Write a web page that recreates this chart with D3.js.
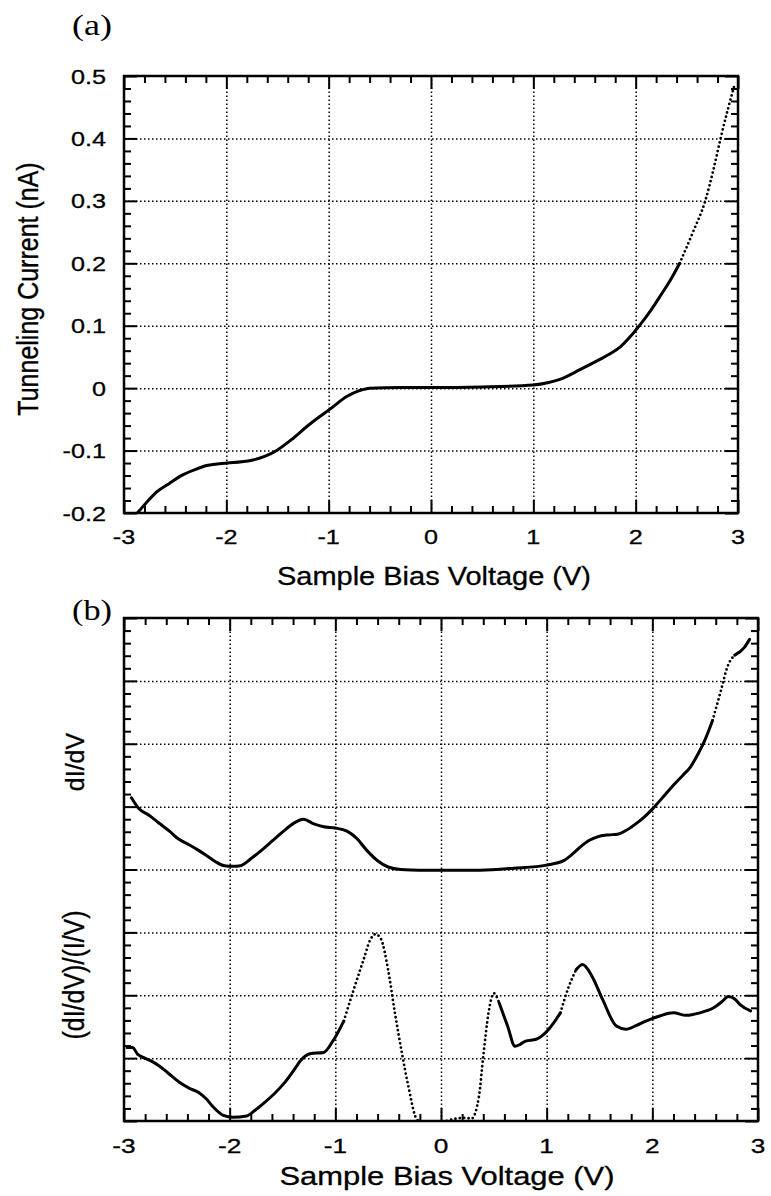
<!DOCTYPE html>
<html lang="en">
  <head>
    <meta charset="UTF-8" />
    <title>Tunneling Spectroscopy</title>
    <script src="https://d3js.org/d3.v7.min.js"></script>
    <style>
      body {
        margin: 0;
        background-color: #fff;
      }
      svg {
        display: block;
      }
      .tick-label {
        font-family: "Liberation Sans", Arial, sans-serif;
        font-size: 21px;
        fill: #000;
        stroke: #000;
        stroke-width: 0.3;
      }
      .axis-title {
        font-family: "Liberation Sans", Arial, sans-serif;
        font-size: 25px;
        fill: #000;
        stroke: #000;
        stroke-width: 0.3;
      }
      .panel-label {
        font-family: "Liberation Serif", "Times New Roman", serif;
        font-size: 29px;
        fill: #000;
      }
      .grid line {
        stroke: #000;
        stroke-width: 1.5;
        stroke-dasharray: 1.5, 2.5;
      }
      .ticks line {
        stroke: #000;
        stroke-width: 2;
      }
      .frame {
        fill: none;
        stroke: #000;
        stroke-width: 2.5;
      }
      .curve {
        fill: none;
        stroke: #000;
        stroke-width: 3;
        stroke-linejoin: round;
        stroke-linecap: round;
      }
      .curve.sparse {
        stroke-width: 2.8;
        stroke-dasharray: 0, 4.4;
      }
    </style>
  </head>
  <body>
    <script>
      // ---- data ----
      const biasTicks = [-3, -2, -1, 0, 1, 2, 3];
      const biasTickLabels = ["-3", "-2", "-1", "0", "1", "2", "3"];
      const currentTicks = [-0.2, -0.1, 0, 0.1, 0.2, 0.3, 0.4, 0.5];
      const currentTickLabels = ["-0.2", "-0.1", "0", "0.1", "0.2", "0.3", "0.4", "0.5"];
      const specTicks = [0, 1, 2, 3, 4, 5, 6, 7, 8]; // arbitrary units, no labels

      // (a) tunneling current (V, nA)
      const tunnelingCurrent = [
        [-2.93, -0.21], [-2.87, -0.2], [-2.78, -0.183], [-2.68, -0.166],
        [-2.56, -0.153], [-2.45, -0.141], [-2.3, -0.13], [-2.19, -0.124],
        [-1.99, -0.12], [-1.85, -0.118], [-1.74, -0.115], [-1.62, -0.109],
        [-1.5, -0.099], [-1.36, -0.082], [-1.21, -0.061], [-1.1, -0.047],
        [-0.99, -0.034], [-0.82, -0.013], [-0.7, -0.004], [-0.6, 0],
        [-0.3, 0.001], [0, 0.001], [0.5, 0.002], [1.0, 0.005], [1.15, 0.009],
        [1.26, 0.014], [1.46, 0.03], [1.65, 0.046], [1.75, 0.055], [1.85, 0.066],
        [1.95, 0.083], [2.05, 0.103], [2.15, 0.125], [2.25, 0.15], [2.35, 0.176],
        [2.43, 0.2], [2.56, 0.25], [2.68, 0.3], [2.76, 0.35], [2.83, 0.4],
        [2.9, 0.446], [2.97, 0.488]
      ];
      const tunnelingSparse = [[2.42, 3.0]];

      // (b) upper trace: dI/dV (grid units)
      const dIdV = [
        [-2.93, 5.14], [-2.86, 4.97], [-2.76, 4.86], [-2.67, 4.74], [-2.57, 4.61],
        [-2.48, 4.48], [-2.38, 4.39], [-2.29, 4.3], [-2.2, 4.2], [-2.13, 4.12],
        [-2.05, 4.06], [-1.97, 4.05], [-1.9, 4.06], [-1.8, 4.17], [-1.71, 4.29],
        [-1.6, 4.45], [-1.49, 4.61], [-1.4, 4.73], [-1.3, 4.8], [-1.21, 4.73],
        [-1.11, 4.68], [-1.0, 4.66], [-0.89, 4.61], [-0.8, 4.5], [-0.7, 4.3],
        [-0.6, 4.14], [-0.5, 4.04], [-0.38, 4.0], [-0.2, 3.99], [0, 3.99],
        [0.37, 3.99], [0.69, 4.02], [1.0, 4.07], [1.16, 4.14], [1.24, 4.24],
        [1.32, 4.36], [1.4, 4.46], [1.48, 4.52], [1.58, 4.55], [1.67, 4.56],
        [1.75, 4.62], [1.83, 4.71], [1.92, 4.83], [2.0, 4.96], [2.1, 5.15],
        [2.21, 5.36], [2.29, 5.5], [2.36, 5.63], [2.43, 5.83], [2.49, 6.03],
        [2.57, 6.37], [2.65, 6.85], [2.71, 7.22], [2.78, 7.41], [2.87, 7.53],
        [2.92, 7.66]
      ];
      const dIdVSparse = [[2.55, 2.76]];

      // (b) lower trace: (dI/dV)/(I/V) (grid units)
      const normalizedDIdV = [
        [-2.97, 1.17], [-2.92, 1.17], [-2.87, 1.06], [-2.83, 1.02], [-2.75, 0.96],
        [-2.67, 0.88], [-2.58, 0.76], [-2.48, 0.62], [-2.38, 0.52], [-2.29, 0.45],
        [-2.22, 0.35], [-2.16, 0.23], [-2.06, 0.09], [-1.97, 0.06], [-1.84, 0.08],
        [-1.76, 0.17], [-1.68, 0.28], [-1.58, 0.43], [-1.49, 0.59], [-1.4, 0.79],
        [-1.33, 0.96], [-1.24, 1.07], [-1.11, 1.09], [-1.02, 1.28], [-0.92, 1.59],
        [-0.83, 2.07], [-0.73, 2.58], [-0.67, 2.88], [-0.62, 2.97], [-0.57, 2.9],
        [-0.5, 2.4], [-0.44, 1.76], [-0.37, 1.08], [-0.31, 0.56], [-0.23, 0.03],
        [-0.15, -0.05], [-0.05, -0.03], [0.05, 0.0], [0.15, 0.04], [0.22, 0.05],
        [0.29, 0.04], [0.36, 0.4], [0.4, 1.03], [0.45, 1.72], [0.5, 2.03],
        [0.55, 1.88], [0.63, 1.51], [0.7, 1.19], [0.75, 1.22], [0.8, 1.27],
        [0.9, 1.3], [1.02, 1.46], [1.13, 1.72], [1.21, 2.14], [1.28, 2.41],
        [1.34, 2.49], [1.43, 2.3], [1.53, 1.93], [1.66, 1.51], [1.75, 1.46],
        [1.85, 1.52], [1.94, 1.59], [2.07, 1.67], [2.2, 1.72], [2.32, 1.68],
        [2.45, 1.72], [2.58, 1.8], [2.66, 1.9], [2.72, 1.98], [2.78, 1.94],
        [2.83, 1.85], [2.93, 1.75]
      ];
      const normalizedSparse = [[-0.9, 0.58], [1.15, 1.3]];

      // ---- drawing ----
      const svg = d3
        .select("body")
        .append("svg")
        .attr("width", 771)
        .attr("height", 1196);

      const line = d3
        .line()
        .x((d) => d.x)
        .y((d) => d.y)
        .curve(d3.curveMonotoneX);

      // split a trace into solid / sparsely sampled (dotted) stretches
      function pieces(pts, sparse) {
        const isSparse = (a, b) => {
          const m = (a[0] + b[0]) / 2;
          return sparse.some((r) => m >= r[0] && m <= r[1]);
        };
        const out = [];
        let cur = null;
        for (let i = 1; i < pts.length; i++) {
          const s = isSparse(pts[i - 1], pts[i]);
          if (!cur || cur.sparse !== s) {
            cur = { sparse: s, pts: [pts[i - 1]] };
            out.push(cur);
          }
          cur.pts.push(pts[i]);
        }
        return out;
      }

      function minorValues(lo, hi, step, major) {
        const n = Math.round((hi - lo) / step);
        return d3
          .range(n + 1)
          .map((i) => lo + i * step)
          .filter((v) => Math.abs(v / major - Math.round(v / major)) > 1e-6);
      }

      function text(g, str, cls, x, y, sx, anchor, rotate, len) {
        const t = g
          .append("text")
          .attr("class", cls)
          .attr(
            "transform",
            `translate(${x},${y}) scale(${sx},1)` + (rotate ? " rotate(-90)" : "")
          )
          .style("text-anchor", anchor)
          .text(str);
        if (len) t.attr("textLength", len).attr("lengthAdjust", "spacingAndGlyphs");
        return t;
      }

      function drawPanel(cfg) {
        const { box } = cfg;
        const w = box.right - box.left,
          h = box.bottom - box.top;
        const x = d3.scaleLinear().domain([-3, 3]).range([box.left, box.right]);
        const y = d3.scaleLinear().domain(cfg.yDomain).range([box.bottom, box.top]);
        const g = svg.append("g");

        // dotted grid
        g.append("g")
          .attr("class", "grid")
          .attr("transform", `translate(0,${box.bottom})`)
          .call(d3.axisBottom(x).tickValues(biasTicks.slice(1, -1)).tickSize(-h).tickFormat(""))
          .call((a) => a.select(".domain").remove());
        g.append("g")
          .attr("class", "grid")
          .attr("transform", `translate(${box.left},0)`)
          .call(d3.axisLeft(y).tickValues(cfg.yTicks.slice(1, -1)).tickSize(-w).tickFormat(""))
          .call((a) => a.select(".domain").remove());

        // inward ticks on all four sides
        const xMinor = minorValues(-3, 3, 0.2, 1);
        const yMinor = minorValues(cfg.yDomain[0], cfg.yDomain[1], cfg.yMinorStep, cfg.yMajorStep);
        const sides = [
          [d3.axisBottom(x), `translate(0,${box.bottom})`, biasTicks, xMinor],
          [d3.axisTop(x), `translate(0,${box.top})`, biasTicks, xMinor],
          [d3.axisLeft(y), `translate(${box.left},0)`, cfg.yTicks, yMinor],
          [d3.axisRight(y), `translate(${box.right},0)`, cfg.yTicks, yMinor],
        ];
        sides.forEach(([axis, tr, major, minor]) => {
          g.append("g")
            .attr("class", "ticks")
            .attr("transform", tr)
            .call(axis.tickValues(major).tickSize(-13).tickFormat(""))
            .call((a) => a.select(".domain").remove());
          g.append("g")
            .attr("class", "ticks")
            .attr("transform", tr)
            .call(axis.tickValues(minor).tickSize(-7).tickFormat(""))
            .call((a) => a.select(".domain").remove());
        });

        // traces
        const clipId = "clip-" + cfg.name;
        g.append("clipPath")
          .attr("id", clipId)
          .append("rect")
          .attr("x", box.left)
          .attr("y", box.top)
          .attr("width", w)
          .attr("height", h);
        const curves = g.append("g").attr("clip-path", `url(#${clipId})`);
        cfg.traces.forEach(([pts, sparse]) => {
          pieces(pts, sparse).forEach((p) => {
            curves
              .append("path")
              .attr("class", p.sparse ? "curve sparse" : "curve")
              .attr("d", line(p.pts.map((d) => ({ x: x(d[0]), y: y(d[1]) }))));
          });
        });

        g.append("rect")
          .attr("class", "frame")
          .attr("x", box.left)
          .attr("y", box.top)
          .attr("width", w)
          .attr("height", h);

        // x tick labels
        biasTicks.forEach((v, i) => {
          text(g, biasTickLabels[i], "tick-label", x(v), cfg.xLabelY, cfg.tickScale, "middle");
        });
        return { g, x, y };
      }

      // (a) I-V
      const pa = drawPanel({
        name: "a",
        box: { left: 124, right: 738, top: 76, bottom: 513 },
        yDomain: [-0.2, 0.5],
        yTicks: currentTicks,
        yMajorStep: 0.1,
        yMinorStep: 0.02,
        traces: [[tunnelingCurrent, tunnelingSparse]],
        xLabelY: 544,
        tickScale: 1.2,
      });
      currentTicks.forEach((v, i) => {
        text(pa.g, currentTickLabels[i], "tick-label", 106, pa.y(v) + 7.5, 1.2, "end");
      });
      text(pa.g, "Sample Bias Voltage (V)", "axis-title", 434, 585, 1, "middle", false, 314);
      text(pa.g, "Tunneling Current (nA)", "axis-title", 38, 289, 1.15, "middle", true);
      text(pa.g, "(a)", "panel-label", 72, 35, 1, "start", false, 40);

      // (b) dI/dV and normalized dI/dV
      const pb = drawPanel({
        name: "b",
        box: { left: 124, right: 758, top: 618, bottom: 1121 },
        yDomain: [0, 8],
        yTicks: specTicks,
        yMajorStep: 1,
        yMinorStep: 0.2,
        traces: [
          [dIdV, dIdVSparse],
          [normalizedDIdV, normalizedSparse],
        ],
        xLabelY: 1153,
        tickScale: 1.25,
      });
      text(pb.g, "Sample Bias Voltage (V)", "axis-title", 447, 1185, 1, "middle", false, 335);
      text(pb.g, "dI/dV", "axis-title", 84, 762, 1.05, "middle", true);
      text(pb.g, "(dI/dV)/(I/V)", "axis-title", 84, 975, 1.15, "middle", true);
      text(pb.g, "(b)", "panel-label", 72, 620, 1, "start", false, 40);
    </script>
  </body>
</html>
